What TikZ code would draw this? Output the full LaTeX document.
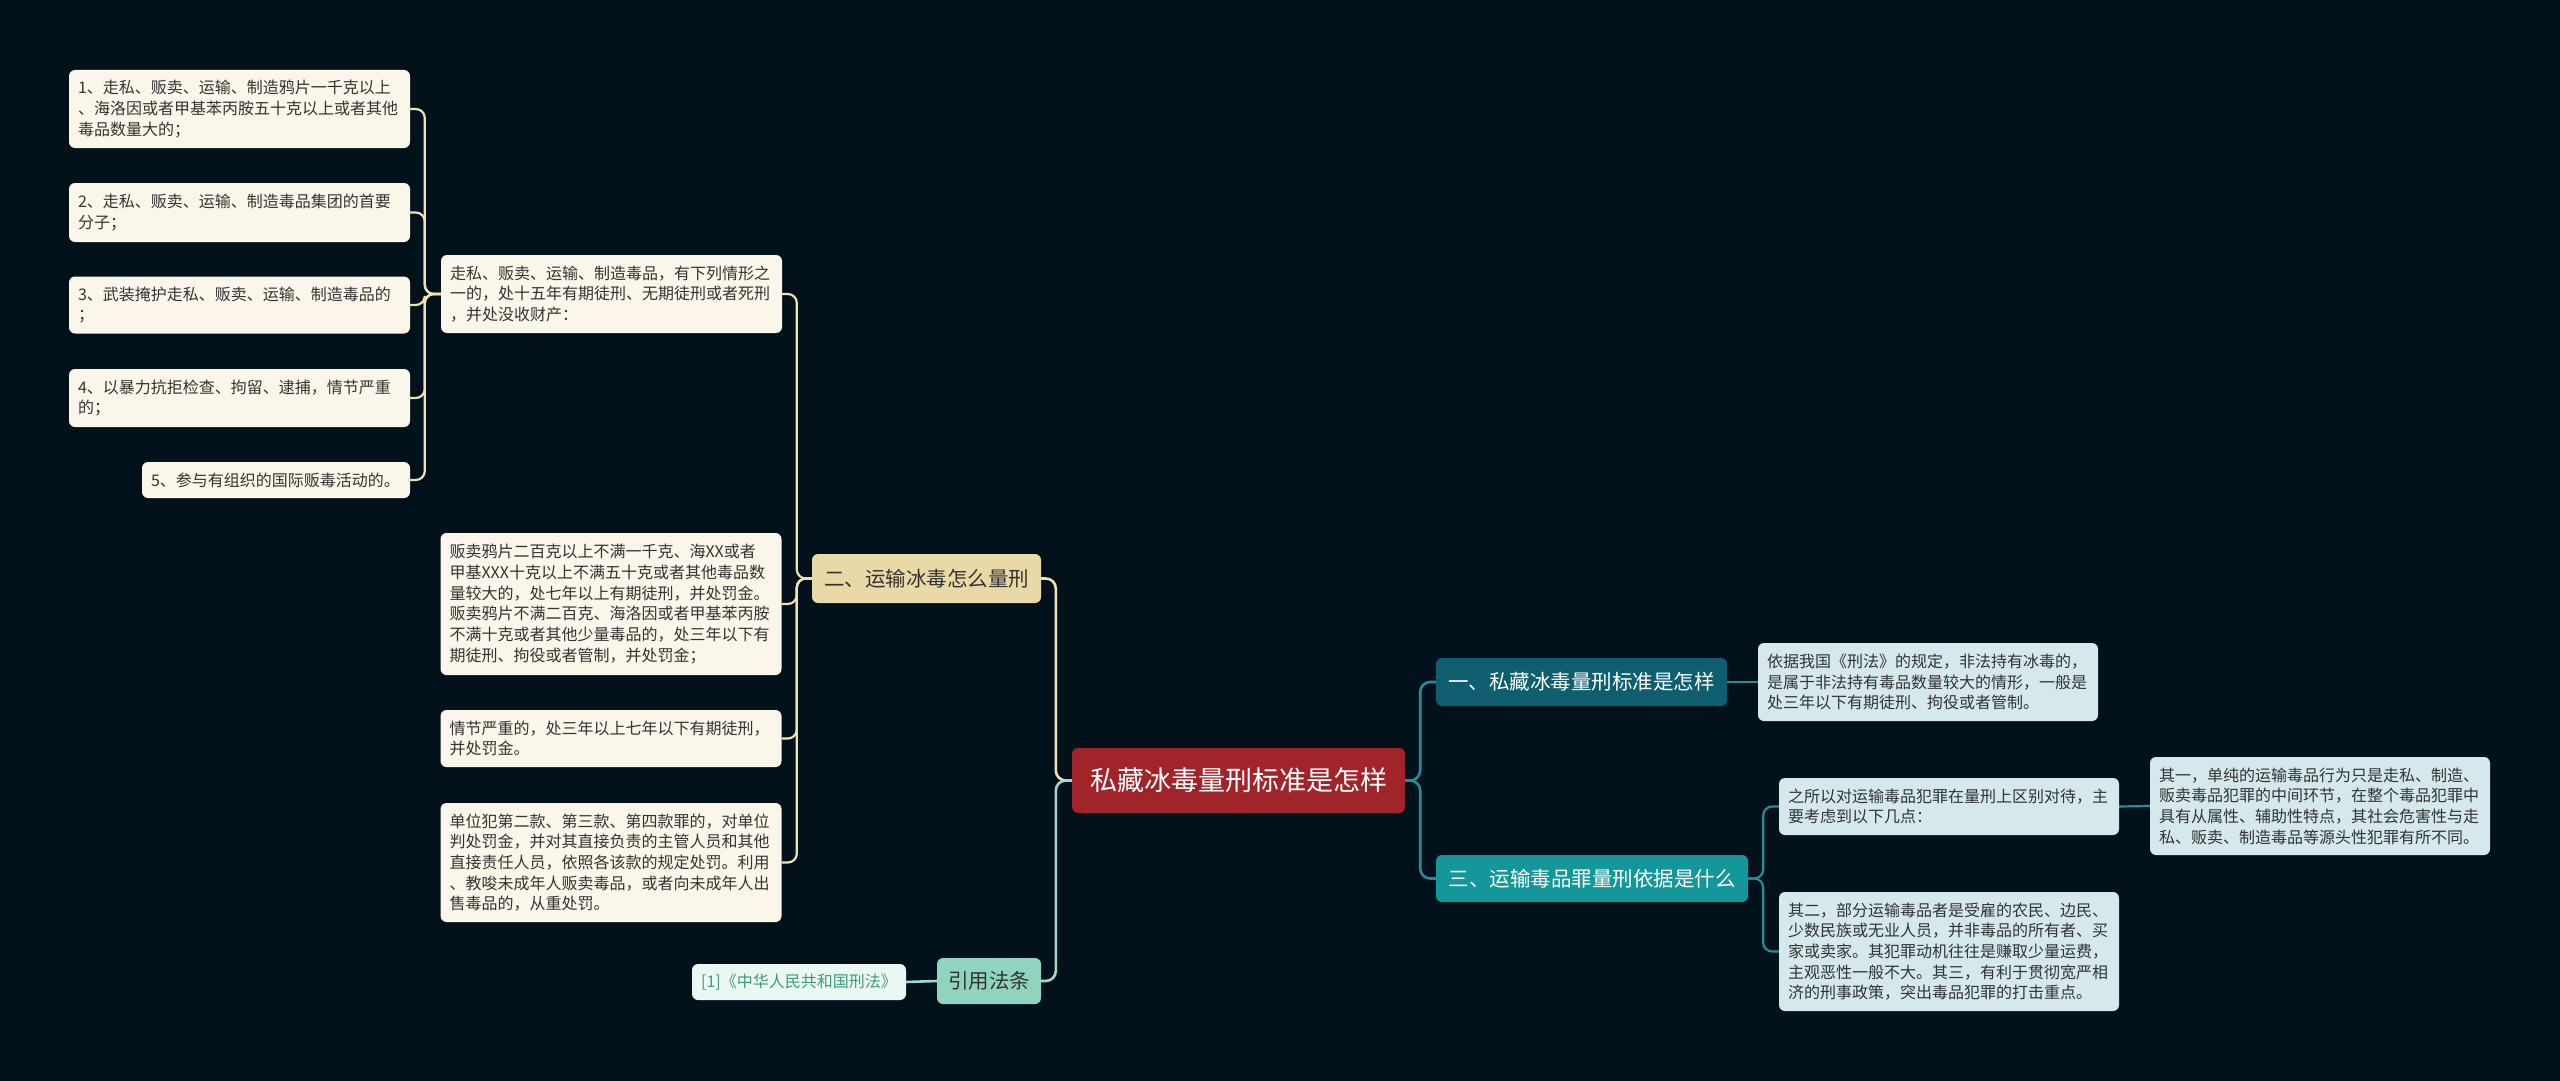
\documentclass[tikz,border=0pt]{standalone}
\usepackage{fontspec}
\newfontfamily\cjk{Noto Sans CJK SC}
\usetikzlibrary{backgrounds}
\definecolor{bgc}{HTML}{03111A}
\definecolor{cream}{HTML}{FBF6EA}
\definecolor{tan}{HTML}{E9D9A6}
\definecolor{ylw}{HTML}{EDE3B4}
\definecolor{rootc}{HTML}{A2242B}
\definecolor{tealdk}{HTML}{0E5E70}
\definecolor{tealmd}{HTML}{13979B}
\definecolor{pale}{HTML}{D5E8EB}
\definecolor{tline}{HTML}{2A8C94}
\definecolor{mintc}{HTML}{90D4BF}
\definecolor{citefill}{HTML}{EBF7F3}
\definecolor{citetxt}{HTML}{3D9B78}
\definecolor{mline}{HTML}{9FD9C8}
\definecolor{txt}{HTML}{333333}
\begin{document}
\begin{tikzpicture}[x=1pt,y=-1pt,
  box/.style={rounded corners=6pt, inner xsep=9pt, inner ysep=0pt, align=left,
    font=\cjk\fontsize{16}{20.7}\selectfont, text=txt},
  lf/.style={box, fill=cream, text width=323pt},
  rf/.style={box, fill=pale, text width=322pt},
  big/.style={rounded corners=6pt, inner sep=0pt, align=center,
    font=\cjk\fontsize{20.5}{24}\selectfont},
  yline/.style={draw=ylw, line width=2.6pt, rounded corners=10pt},
  ythin/.style={draw=ylw, line width=2.2pt, rounded corners=9pt},
  mline/.style={draw=mline, line width=2.6pt, rounded corners=10pt},
  tl/.style={draw=tline, line width=2.6pt, rounded corners=10pt},
  tthin/.style={draw=tline, line width=2.2pt, rounded corners=9pt}]
\useasboundingbox (0,0) rectangle (2560,1081);

% root
\node[big, fill=rootc, text=white, minimum width=333pt, minimum height=65pt,
  font=\cjk\fontsize{27}{30}\selectfont] (root) at (1238.5,780.5) {私藏冰毒量刑标准是怎样};

% left branch
\node[big, fill=tan, text=txt, minimum width=229pt, minimum height=49pt] (n2) at (926.5,578.5) {二、运输冰毒怎么量刑};
\node[big, fill=mintc, text=txt, minimum width=104pt, minimum height=46pt] (ref) at (989,981) {引用法条};
\node[big, fill=citefill, text=citetxt, minimum width=214pt, minimum height=36pt,
  font=\cjk\fontsize{16}{20}\selectfont] (cite) at (799,982) {[1]《中华人民共和国刑法》};

\node[lf, minimum height=78pt] (P1) at (611.5,294) {走私、贩卖、运输、制造毒品，有下列情形之\\一的，处十五年有期徒刑、无期徒刑或者死刑\\，并处没收财产：};
\node[lf, minimum height=142pt] (A) at (611,604) {贩卖鸦片二百克以上不满一千克、海XX或者\\甲基XXX十克以上不满五十克或者其他毒品数\\量较大的，处七年以上有期徒刑，并处罚金。\\贩卖鸦片不满二百克、海洛因或者甲基苯丙胺\\不满十克或者其他少量毒品的，处三年以下有\\期徒刑、拘役或者管制，并处罚金；};
\node[lf, minimum height=57pt] (B) at (611,738.5) {情节严重的，处三年以上七年以下有期徒刑，\\并处罚金。};
\node[lf, minimum height=119pt] (C) at (611,862.5) {单位犯第二款、第三款、第四款罪的，对单位\\判处罚金，并对其直接负责的主管人员和其他\\直接责任人员，依照各该款的规定处罚。利用\\、教唆未成年人贩卖毒品，或者向未成年人出\\售毒品的，从重处罚。};

\node[lf, minimum height=78pt] (L1) at (239.5,109) {1、走私、贩卖、运输、制造鸦片一千克以上\\、海洛因或者甲基苯丙胺五十克以上或者其他\\毒品数量大的；};
\node[lf, minimum height=59pt] (L2) at (239.5,212.5) {2、走私、贩卖、运输、制造毒品集团的首要\\分子；};
\node[lf, minimum height=57pt] (L3) at (239.5,305) {3、武装掩护走私、贩卖、运输、制造毒品的\\；};
\node[lf, minimum height=58pt] (L4) at (239.5,398) {4、以暴力抗拒检查、拘留、逮捕，情节严重\\的；};
\node[lf, text width=250pt, minimum height=36pt] (L5) at (276,480) {5、参与有组织的国际贩毒活动的。};

% right branch
\node[big, fill=tealdk, text=white, minimum width=291pt, minimum height=48pt] (n1) at (1581.5,682) {一、私藏冰毒量刑标准是怎样};
\node[big, fill=tealmd, text=white, minimum width=312pt, minimum height=47pt] (n3) at (1592,878.5) {三、运输毒品罪量刑依据是什么};

\node[rf, minimum height=78pt] (R1) at (1928,682) {依据我国《刑法》的规定，非法持有冰毒的，\\是属于非法持有毒品数量较大的情形，一般是\\处三年以下有期徒刑、拘役或者管制。};
\node[rf, minimum height=57pt] (R2) at (1949,806.5) {之所以对运输毒品犯罪在量刑上区别对待，主\\要考虑到以下几点：};
\node[rf, minimum height=119pt] (R3) at (1949,951.5) {其二，部分运输毒品者是受雇的农民、边民、\\少数民族或无业人员，并非毒品的所有者、买\\家或卖家。其犯罪动机往往是赚取少量运费，\\主观恶性一般不大。其三，有利于贯彻宽严相\\济的刑事政策，突出毒品犯罪的打击重点。};
\node[rf, minimum height=98pt] (R4) at (2320,806) {其一，单纯的运输毒品行为只是走私、制造、\\贩卖毒品犯罪的中间环节，在整个毒品犯罪中\\具有从属性、辅助性特点，其社会危害性与走\\私、贩卖、制造毒品等源头性犯罪有所不同。};

\begin{pgfonlayer}{background}
\fill[bgc] (0,0) rectangle (2560,1081);
% root to left
\draw[yline] (root.west) -- ++(-16,0) |- (n2.east);
\draw[mline] (root.west) -- ++(-16,0) |- (ref.east);
\draw[mline] (ref.west) -- (cite.east);
% n2 children
\foreach \c in {P1,A,B,C} {\draw[ythin] (n2.west) -- ++(-15,0) |- (\c.east);}
% P1 children
\foreach \c in {L1,L2,L3,L4,L5} {\draw[ythin] (P1.west) -- ++(-16,0) |- (\c.east);}
% root to right
\draw[tl] (root.east) -- ++(15,0) |- (n1.west);
\draw[tl] (root.east) -- ++(15,0) |- (n3.west);
\draw[tthin] (n1.east) -- (R1.west);
\draw[tthin] (n3.east) -- ++(15,0) |- (R2.west);
\draw[tthin] (n3.east) -- ++(15,0) |- (R3.west);
\draw[tthin] (R2.east) -- (R4.west);
\end{pgfonlayer}
\end{tikzpicture}
\end{document}
